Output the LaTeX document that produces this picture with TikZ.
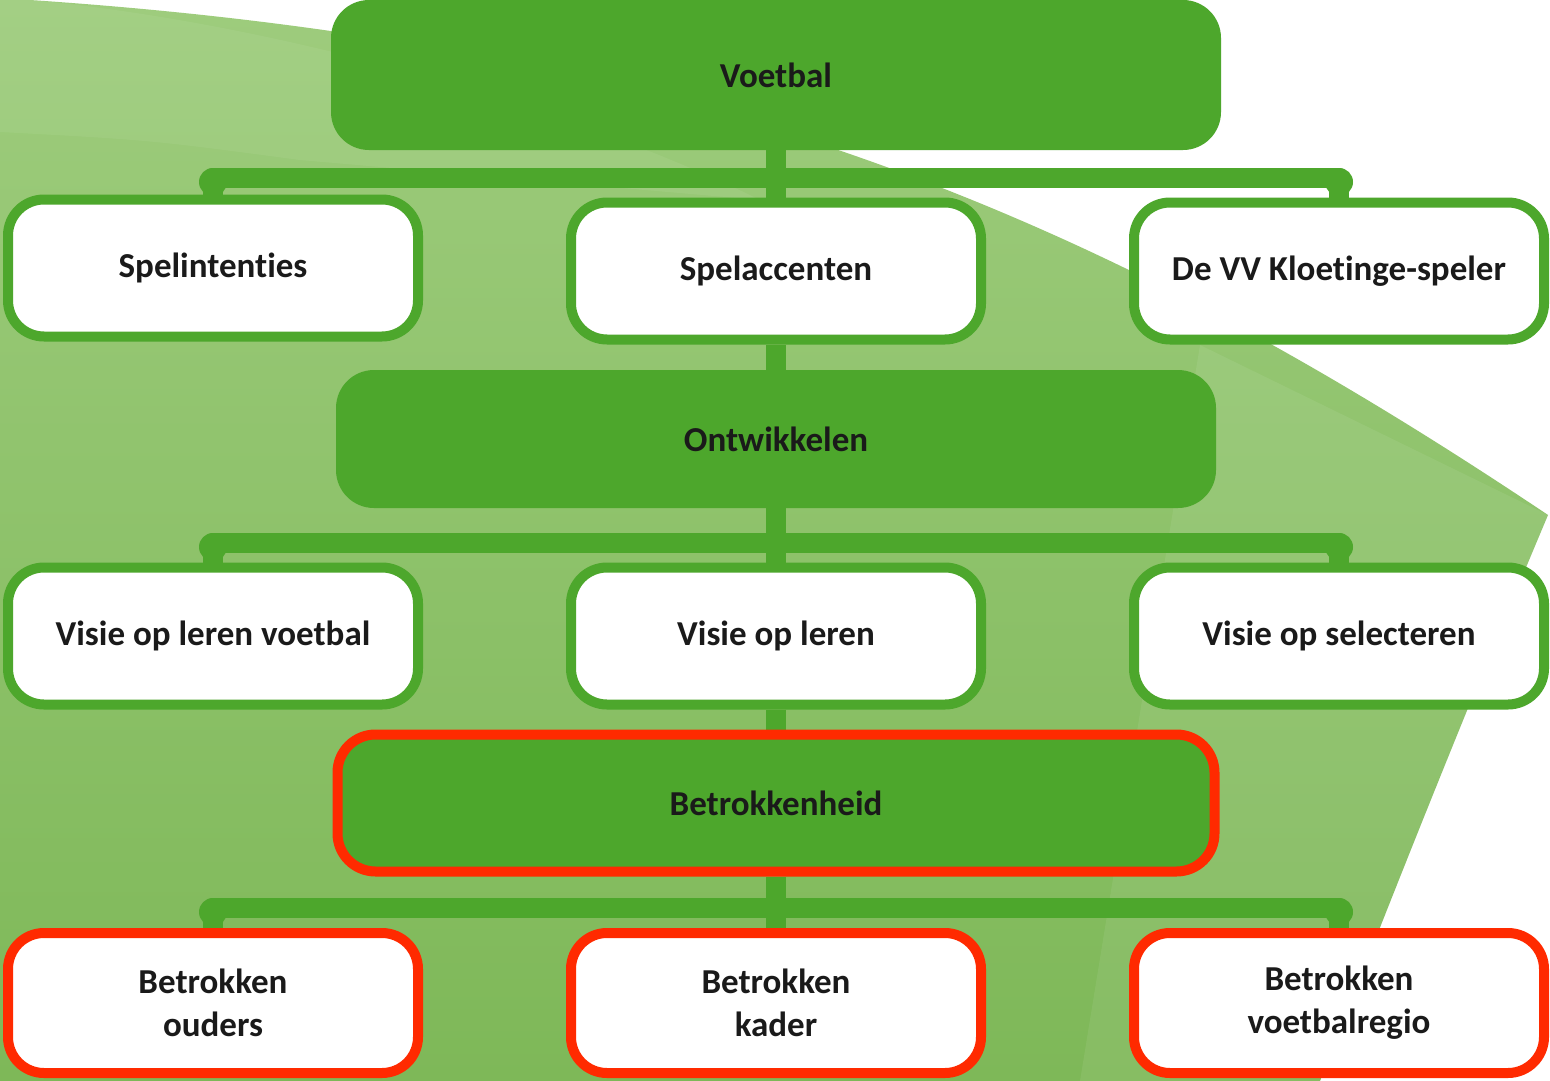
\documentclass[tikz,border=0pt]{standalone}
\usepackage{fontspec}
\setmainfont{Carlito}[Ligatures=NoCommon]
\usepackage{tikz}
\usetikzlibrary{backgrounds}

\definecolor{boxgreen}{RGB}{77,167,44}
\definecolor{boxred}{RGB}{255,42,0}
\definecolor{lightgreen}{RGB}{158,204,125}
\definecolor{midgreen}{RGB}{126,184,88}
\definecolor{textdark}{RGB}{26,26,26}

\begin{document}
\begin{tikzpicture}[x=1pt,y=-1pt,
    mainbox/.style={fill=boxgreen, rounded corners=38pt, minimum width=890pt, minimum height=150pt, text=textdark, font=\bfseries\fontsize{35}{43}\selectfont},
    subbox/.style={draw=boxgreen, line width=10pt, fill=white, rounded corners=36pt, minimum width=410pt, minimum height=137pt, align=center, text=textdark, font=\bfseries\fontsize{35}{43}\selectfont},
    redbox/.style={subbox, draw=boxred, minimum height=140pt},
    link/.style={draw=boxgreen, line width=20pt, line join=round}]
      \useasboundingbox (0,0) rectangle (1550,1081);

      % Green bars
      \node[mainbox] (voetbal) at (776,75) {Voetbal};
      \node[mainbox, minimum width=880pt, minimum height=138pt] (ontw) at (776,439) {Ontwikkelen};
      \node[mainbox, draw=boxred, line width=10pt, minimum width=877pt, minimum height=137pt] (betrok) at (776,803) {Betrokkenheid};

      % First row
      \node[subbox] (spelint) at (213,268) {Spelintenties};
      \node[subbox] (spelacc) at (776,271) {Spelaccenten};
      \node[subbox] (speler) at (1339,271) {De VV Kloetinge-speler};

      % Second row
      \node[subbox] (visievoetbal) at (213,636) {Visie op leren voetbal};
      \node[subbox] (visieleren) at (776,636) {Visie op leren};
      \node[subbox] (visiesel) at (1339,636) {Visie op selecteren};

      % Third row
      \node[redbox] (ouders) at (213,1003) {Betrokken\\ouders};
      \node[redbox] (kader) at (776,1003) {Betrokken\\kader};
      \node[redbox] (regio) at (1339,1003) {Betrokken\\voetbalregio};

      % Connectors
      \coordinate (bar1l) at (213,178);
      \coordinate (bar1r) at (1339,178);
      \coordinate (bar2l) at (213,543);
      \coordinate (bar2r) at (1339,543);
      \coordinate (bar3l) at (213,908);
      \coordinate (bar3r) at (1339,908);
      \begin{scope}[on background layer]
        % Background swoosh
        \fill[white] (0,0) rectangle (1550,1081);
        \shade[top color=lightgreen, bottom color=midgreen] (0,0) -- (30,0) .. controls (700,45) and (1100,215) .. (1548,515)
          .. controls (1470,700) and (1390,900) .. (1320,1081) -- (0,1081) -- cycle;
        \fill[white, opacity=0.07] (1200,345) -- (1548,515) .. controls (1470,700) and (1390,900) .. (1320,1081) -- (1080,1081) -- cycle;
        \fill[white, opacity=0.06] (0,0) -- (30,0) .. controls (300,25) and (600,120) .. (760,200) -- (300,160) .. controls (150,140) .. (0,132) -- cycle;

        \draw[link] (voetbal.south) -- (spelacc.north);
        \draw[link] (spelacc.south) -- (ontw.north);
        \draw[link] (ontw.south) -- (visieleren.north);
        \draw[link] (visieleren.south) -- (betrok.north);
        \draw[link] (betrok.south) -- (kader.north);
        \draw[link] (spelint.north) -- (bar1l) -- (bar1r) -- (speler.north);
        \draw[link] (visievoetbal.north) -- (bar2l) -- (bar2r) -- (visiesel.north);
        \draw[link] (ouders.north) -- (bar3l) -- (bar3r) -- (regio.north);
        \foreach \c in {bar1l,bar1r,bar2l,bar2r,bar3l,bar3r}
          \fill[boxgreen] ([yshift=-4pt]\c) circle (14pt);
      \end{scope}
    \end{tikzpicture}
\end{document}
